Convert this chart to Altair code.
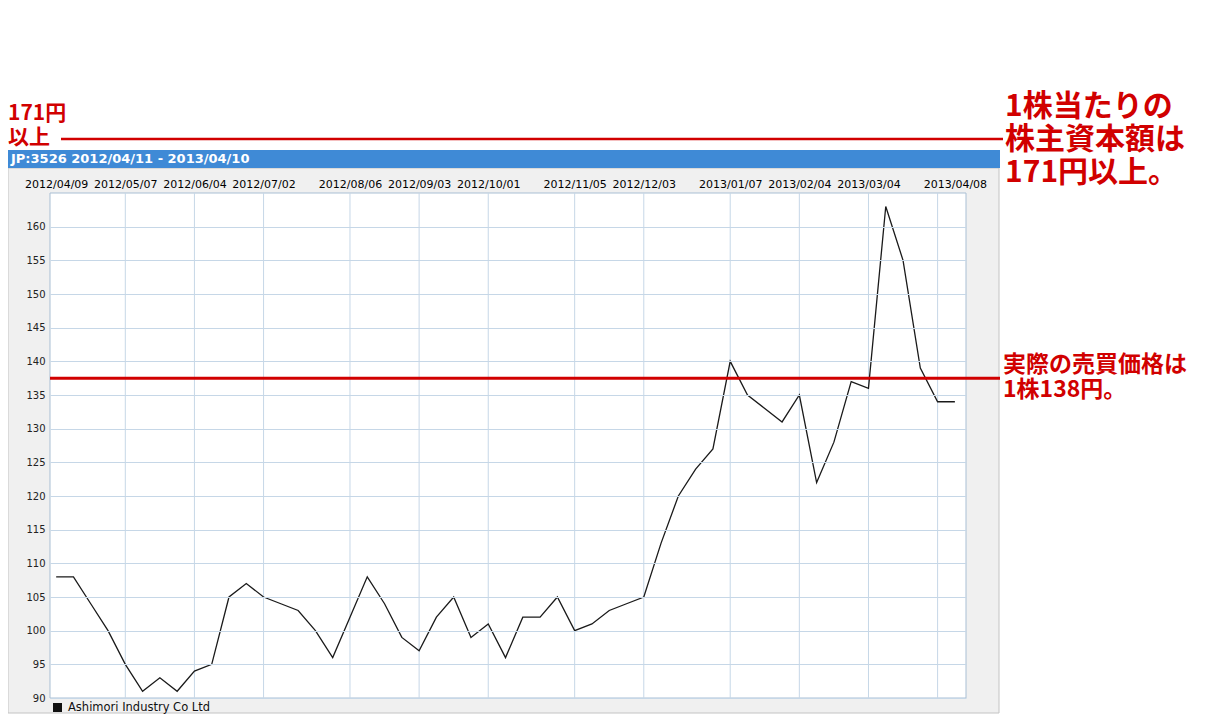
import altair as alt
import pandas as pd

# ---------------- data ----------------
week_dates = [d.strftime("%Y/%m/%d") for d in pd.date_range("2012-04-09", periods=53, freq="7D")]
prices = [108, 108, 104, 100, 95, 91, 93, 91, 94, 95,
          105, 107, 105, 104, 103, 100, 96, 102, 108, 104,
          99, 97, 102, 105, 99, 101, 96, 102, 102, 105,
          100, 101, 103, 104, 105, 113, 120, 124, 127, 140,
          135, 133, 131, 135, 122, 128, 137, 136, 163, 155,
          139, 134, 134]

label_dates = [(2012, 4, 9), (2012, 5, 7), (2012, 6, 4), (2012, 7, 2), (2012, 8, 6),
               (2012, 9, 3), (2012, 10, 1), (2012, 11, 5), (2012, 12, 3), (2013, 1, 7),
               (2013, 2, 4), (2013, 3, 4), (2013, 4, 8)]
grid_dates = ["2012/05/07", "2012/06/04", "2012/07/02", "2012/08/06", "2012/09/03",
              "2012/10/01", "2012/11/05", "2012/12/03", "2013/01/07", "2013/02/04",
              "2013/03/04", "2013/04/01"]
y_ticks = list(range(90, 161, 5))
y_domain = [90, 165]
x_domain = [(2012, 4, 6, 12), (2013, 4, 12, 12)]

title_text = "JP:3526 2012/04/11 - 2013/04/10"
legend_label = "Ashimori Industry Co Ltd"
note_top_left = ["171円", "以上"]
note_top_right = ["1株当たりの", "株主資本額は", "171円以上。"]
note_price = ["実際の売買価格は", "1株138円。"]
trade_price_level = [137.5]

# ---------------- styling ----------------
W, H = 916, 505
RED = "#d10000"
GRID = "#c6d7e7"
FONT = "DejaVu Sans"
CJK = "Noto Sans CJK JP"

df = pd.DataFrame({"date": week_dates, "price": prices})
grid_df = pd.DataFrame({"date": grid_dates})
level_df = pd.DataFrame({"price": trade_price_level})
one = alt.Data(values=[{}])

x_scale = alt.Scale(domain=[alt.DateTime(year=a, month=b, date=c, hours=h) for a, b, c, h in x_domain])
y_scale = alt.Scale(domain=y_domain, nice=False, zero=False)

x_axis = alt.Axis(orient="top", values=[alt.DateTime(year=a, month=b, date=c) for a, b, c in label_dates],
                  format="%Y/%m/%d", labelFont=FONT, labelFontSize=11, labelColor="#000",
                  labelOverlap=False, labelFlush=False, labelBound=False,
                  grid=False, ticks=False, tickSize=0, domain=False, labelPadding=4, zindex=1)
y_axis = alt.Axis(values=y_ticks, labelFont=FONT, labelFontSize=10, labelColor="#222",
                  grid=True, gridColor=GRID, gridWidth=1, ticks=False, tickSize=0,
                  domain=False, labelPadding=5, zindex=1)

frame = alt.Chart(one).mark_rect(fill="#f0f0f0", stroke="#c4c4c4", strokeWidth=1).encode(
    x=alt.value(-42), x2=alt.value(949), y=alt.value(-25), y2=alt.value(520))

title_bar = alt.Chart(one).mark_rect(fill="#3f8ad6").encode(
    x=alt.value(-42), x2=alt.value(950), y=alt.value(-43), y2=alt.value(-25))

title_txt = alt.Chart(one).mark_text(
    text=title_text, font=FONT, fontSize=13, fontWeight="bold", color="white",
    align="left", baseline="middle").encode(x=alt.value(-39), y=alt.value(-34))

plot_bg = alt.Chart(one).mark_rect(fill="white", stroke="#a9bfd4", strokeWidth=1).encode(
    x=alt.value(0), x2=alt.value(W), y=alt.value(0), y2=alt.value(H))

line = alt.Chart(df).mark_line(color="#1a1a1a", strokeWidth=1.3).encode(
    x=alt.X("date:T", scale=x_scale, title=None, axis=x_axis),
    y=alt.Y("price:Q", scale=y_scale, title=None, axis=y_axis))

vgrid = alt.Chart(grid_df).mark_rule(color=GRID, strokeWidth=1).encode(
    x=alt.X("date:T", scale=x_scale, title=None, axis=x_axis),
    y=alt.value(0), y2=alt.value(H))

price_rule = alt.Chart(level_df).mark_rule(color=RED, strokeWidth=3).encode(
    y=alt.Y("price:Q", scale=y_scale, title=None, axis=y_axis),
    x=alt.value(0), x2=alt.value(950))

top_rule = alt.Chart(one).mark_rule(color=RED, strokeWidth=2.5).encode(
    x=alt.value(11), x2=alt.value(953), y=alt.value(-54))

txt_tl = alt.Chart(one).mark_text(
    text=note_top_left, font=CJK, fontSize=21, fontWeight="bold", color=RED,
    align="left", baseline="top", lineHeight=24).encode(x=alt.value(-42), y=alt.value(-90))

txt_tr = alt.Chart(one).mark_text(
    text=note_top_right, font=CJK, fontSize=30, fontWeight="bold", color=RED,
    align="left", baseline="top", lineHeight=33).encode(x=alt.value(955), y=alt.value(-101))

txt_price = alt.Chart(one).mark_text(
    text=note_price, font=CJK, fontSize=23, fontWeight="bold", color=RED,
    align="left", baseline="top", lineHeight=25).encode(x=alt.value(953), y=alt.value(161))

legend_sq = alt.Chart(one).mark_rect(fill="#111").encode(
    x=alt.value(3), x2=alt.value(12), y=alt.value(510), y2=alt.value(519))

legend_txt = alt.Chart(one).mark_text(
    text=legend_label, font=FONT, fontSize=11.5, color="#111",
    align="left", baseline="middle").encode(x=alt.value(18), y=alt.value(515))

chart = alt.layer(
    frame, title_bar, title_txt, plot_bg, vgrid, line, price_rule, top_rule,
    txt_tl, txt_tr, txt_price, legend_sq, legend_txt
).properties(
    width=W, height=H,
    autosize=alt.AutoSizeParams(type="none"),
    padding={"left": 42, "top": 185, "right": 245, "bottom": 17},
    background="white",
).configure_view(stroke="transparent")

chart.save("out.html", embed_options={"renderer": "svg", "actions": False})
